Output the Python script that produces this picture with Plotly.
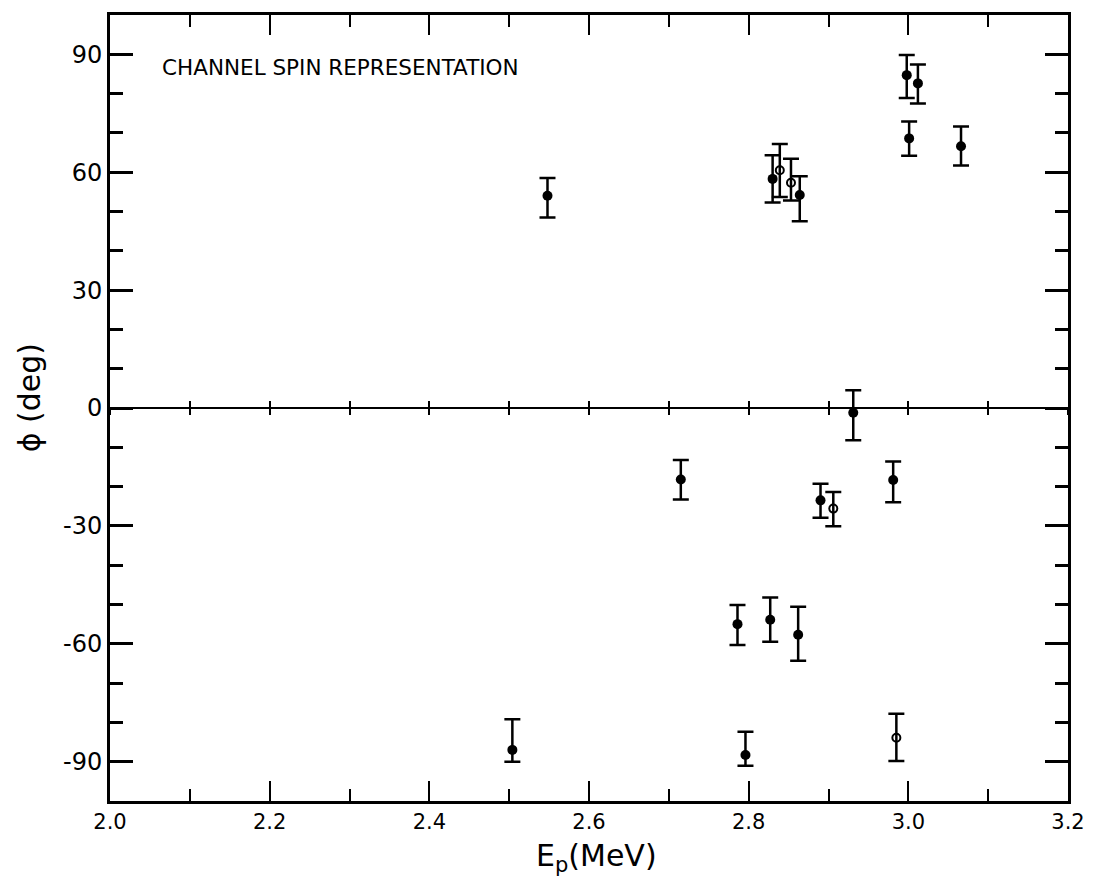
import plotly.graph_objects as go

# ---- data ----
energy_filled = [2.548, 2.830, 2.864, 2.998, 3.001, 3.012, 3.066,
                 2.504, 2.715, 2.786, 2.796, 2.827, 2.862, 2.890, 2.931, 2.981]
phi_filled = [54.0, 58.3, 54.2, 84.7, 68.6, 82.6, 66.6,
              -87.0, -18.2, -55.0, -88.3, -53.9, -57.7, -23.5, -1.2, -18.3]
err_plus_filled = [4.5, 6.0, 4.8, 5.1, 4.3, 4.8, 5.0,
                   7.8, 5.0, 4.9, 5.9, 5.7, 7.1, 4.2, 5.7, 4.7]
err_minus_filled = [5.5, 6.0, 6.7, 5.8, 4.4, 5.1, 4.9,
                    3.0, 5.1, 5.3, 2.7, 5.6, 6.6, 4.4, 7.0, 5.7]

energy_open = [2.839, 2.853, 2.906, 2.985]
phi_open = [60.5, 57.3, -25.6, -83.9]
err_plus_open = [6.7, 6.1, 4.2, 6.1]
err_minus_open = [6.8, 4.5, 4.5, 5.9]

x_tick_vals = [2.0, 2.2, 2.4, 2.6, 2.8, 3.0, 3.2]
x_tick_text = ["2.0", "2.2", "2.4", "2.6", "2.8", "3.0", "3.2"]
y_tick_vals = [90, 60, 30, 0, -30, -60, -90]
y_tick_text = ["90", "60", "30", "0", "-30", "-60", "-90"]

FONT = "DejaVu Sans"
INK = "black"

fig = go.Figure()

fig.add_trace(go.Scatter(
    x=energy_filled, y=phi_filled, mode="markers",
    marker=dict(symbol="circle", size=10, color=INK),
    error_y=dict(type="data", symmetric=False, array=err_plus_filled,
                 arrayminus=err_minus_filled, color=INK, thickness=2.5, width=8),
    showlegend=False, hoverinfo="skip"))

fig.add_trace(go.Scatter(
    x=energy_open, y=phi_open, mode="markers",
    marker=dict(symbol="circle-open", size=8, color=INK, line=dict(width=2, color=INK)),
    error_y=dict(type="data", symmetric=False, array=err_plus_open,
                 arrayminus=err_minus_open, color=INK, thickness=2.5, width=8),
    showlegend=False, hoverinfo="skip"))

# invisible helpers so that the zero-line axes are drawn
for ax in ["x2", "x3"]:
    fig.add_trace(go.Scatter(x=energy_open, y=phi_open, xaxis=ax, mode="markers",
                             marker=dict(opacity=0), showlegend=False, hoverinfo="skip"))

fig.update_layout(
    width=1097, height=888,
    margin=dict(l=110, r=26, t=14, b=87),
    paper_bgcolor="white", plot_bgcolor="white",
    font=dict(family=FONT, color=INK),
    xaxis=dict(range=[2.0, 3.2], tickvals=x_tick_vals, ticktext=x_tick_text,
               ticks="inside", ticklen=20, tickwidth=2, tickcolor=INK,
               minor=dict(dtick=0.1, tick0=2.0, ticks="inside", ticklen=12,
                          tickwidth=2, tickcolor=INK, showgrid=False),
               showline=True, linewidth=3, linecolor=INK, mirror="ticks",
               showgrid=False, zeroline=False,
               tickfont=dict(size=21, family=FONT)),
    xaxis2=dict(overlaying="x", matches="x", anchor="free", position=0.5,
                range=[2.0, 3.2], dtick=0.1, tick0=2.0,
                showline=True, linewidth=2, linecolor=INK,
                ticks="inside", ticklen=6, tickwidth=2, tickcolor=INK,
                showticklabels=False, showgrid=False, zeroline=False),
    xaxis3=dict(overlaying="x", matches="x", anchor="free", position=0.5,
                range=[2.0, 3.2], dtick=0.1, tick0=2.0,
                showline=False,
                ticks="outside", ticklen=6, tickwidth=2, tickcolor=INK,
                showticklabels=False, showgrid=False, zeroline=False),
    yaxis=dict(range=[-100, 100], tickvals=y_tick_vals, ticktext=y_tick_text,
               ticks="inside", ticklen=23, tickwidth=2.5, tickcolor=INK,
               minor=dict(dtick=10, tick0=0, ticks="inside", ticklen=13,
                          tickwidth=2.5, tickcolor=INK, showgrid=False),
               showline=True, linewidth=3, linecolor=INK, mirror="ticks",
               showgrid=False, zeroline=False,
               tickfont=dict(size=24, family=FONT)),
)

fig.add_annotation(text="CHANNEL SPIN REPRESENTATION", xref="paper", yref="paper",
                   x=0.052, y=0.9327, xanchor="left", yanchor="middle",
                   showarrow=False, font=dict(size=21.5, family=FONT, color=INK))
fig.add_annotation(text="E<sub>p</sub>(MeV)", xref="paper", yref="paper",
                   x=0.508, y=-0.045, xanchor="center", yanchor="top",
                   showarrow=False, font=dict(size=30, family=FONT, color=INK))
fig.add_annotation(text="ϕ (deg)", xref="paper", yref="paper",
                   x=-0.084, y=0.513, xanchor="center", yanchor="middle",
                   textangle=-90, showarrow=False,
                   font=dict(size=30, family=FONT, color=INK))

fig.write_html("out.html")
